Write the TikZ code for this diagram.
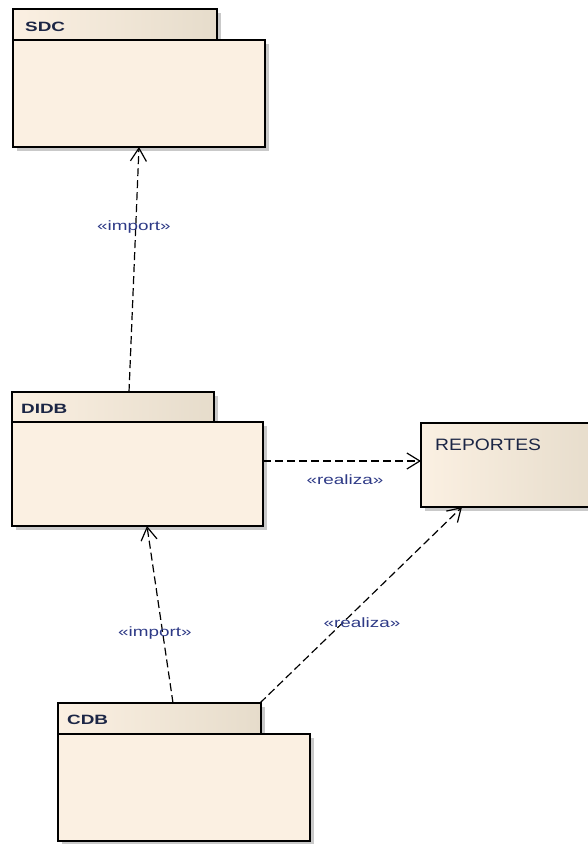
\documentclass[tikz,border=0pt]{standalone}
\usepackage{fontspec}
\setmainfont{Liberation Sans}
\newfontfamily\widefont[FakeStretch=1.4]{Liberation Sans}
\newfontfamily\repfont[FakeStretch=1.17]{Liberation Sans}
\usetikzlibrary{arrows.meta}

\definecolor{pkgfill}{HTML}{FBF0E2}
\definecolor{tabdark}{HTML}{E6DCCB}
\definecolor{shadowgray}{HTML}{C9C9C9}
\definecolor{titlenavy}{HTML}{1C2645}
\definecolor{lblblue}{HTML}{2E3A86}

\tikzset{
  pkgbody/.style={draw=black, line width=1.4pt, fill=pkgfill,
    inner sep=0pt, outer sep=0pt, anchor=north west},
  pkgtab/.style={draw=black, line width=1.4pt, left color=pkgfill, right color=tabdark,
    inner sep=0pt, outer sep=0pt, anchor=north west},
  classbox/.style={draw=black, line width=1.4pt, left color=pkgfill, right color=tabdark,
    inner sep=0pt, outer sep=0pt, anchor=north west},
  pkgtitle/.style={text=titlenavy, inner sep=0pt, anchor=base west,
    font=\widefont\bfseries\fontsize{13.5}{16}\selectfont},
  reptitle/.style={text=titlenavy, inner sep=0pt, anchor=base west,
    font=\repfont\fontsize{16.5}{19}\selectfont},
  lbl/.style={text=lblblue, inner sep=0pt,
    font=\widefont\fontsize{13.5}{15}\selectfont},
  conn/.style={draw=black, line width=1.2pt, dash pattern=on 8pt off 4pt,
    -{Straight Barb[length=13pt,width=16pt,line width=1.2pt]}},
}

\begin{document}
\begin{tikzpicture}[x=1pt,y=-1pt]
\useasboundingbox (0,0) rectangle (588,844);

% drop shadows
\fill[shadowgray] (17,13) rectangle (221,44);
\fill[shadowgray] (17,44) rectangle (269,151);
\fill[shadowgray] (16,396) rectangle (218,426);
\fill[shadowgray] (16,426) rectangle (267,530);
\fill[shadowgray] (62,707) rectangle (265,738);
\fill[shadowgray] (62,738) rectangle (314,845);
\fill[shadowgray] (425,427) rectangle (604,511);

% package SDC
\node[pkgbody, minimum width=252pt, minimum height=107pt] (sdc) at (13,40) {};
\node[pkgtab, minimum width=204pt, minimum height=31pt] (sdctab) at (13,9) {};
\node[pkgtitle] (sdctitle) at (25,31) {SDC};

% package DIDB
\node[pkgbody, minimum width=251pt, minimum height=104pt] (didb) at (12,422) {};
\node[pkgtab, minimum width=202pt, minimum height=30pt] (didbtab) at (12,392) {};
\node[pkgtitle] (didbtitle) at (21,413) {DIDB};

% package CDB
\node[pkgbody, minimum width=252pt, minimum height=107pt] (cdb) at (58,734) {};
\node[pkgtab, minimum width=203pt, minimum height=31pt] (cdbtab) at (58,703) {};
\node[pkgtitle] (cdbtitle) at (67,724) {CDB};

% element REPORTES
\node[classbox, minimum width=179pt, minimum height=84pt] (reportes) at (421,423) {};
\node[reptitle] (reptext) at (435,450) {REPORTES};

% dependencies
\draw[conn] ([xshift=117pt]didbtab.north west) -- ([xshift=126pt]sdc.south west);
\draw[conn] ([yshift=13pt]didb.east) -- ([yshift=4pt]reportes.west);
\draw[conn] ([xshift=115pt]cdbtab.north west) -- ([xshift=135pt]didb.south west);
\draw[conn] ([xshift=-1pt]cdbtab.north east) -- ([xshift=41pt]reportes.south west);

% stereotype labels
\node[lbl] (lblimp1) at (134,227) {«import»};
\node[lbl] (lblrea1) at (345,480) {«realiza»};
\node[lbl] (lblimp2) at (155,633) {«import»};
\node[lbl] (lblrea2) at (362,623) {«realiza»};
\end{tikzpicture}
\end{document}
